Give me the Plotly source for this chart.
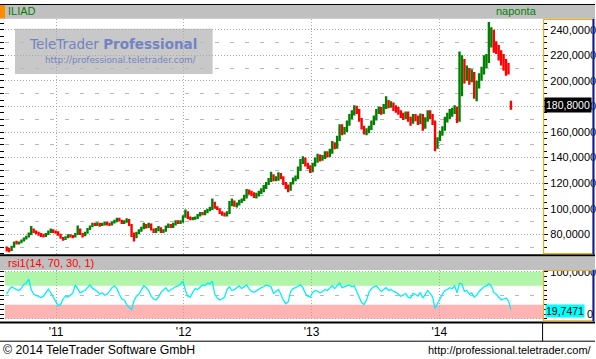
import plotly.graph_objects as go
import pandas as pd

W, H = 596, 359


def px(x):
    return x / W


def py(y):
    return (H - y) / H


# ---------------- data (weekly bars) ----------------
first_week = "2010-08-13"

open_ = [
    69, 68, 67.5, 70, 73.5, 73, 73.5, 75, 76.5, 78,
    80, 84, 81.5, 81, 80, 79, 78.5, 80, 82, 83,
    82, 81.5, 80, 77, 76, 77.5, 79, 78.5, 78, 80,
    84, 80, 79, 81, 84, 86, 88, 87.5, 88.5, 87,
    88, 89, 88, 87.5, 89, 90, 92, 91, 88.5, 90,
    91, 87.5, 80, 78, 81, 83, 85, 87, 86, 88,
    84, 82, 84, 85, 82, 83, 86, 87, 86, 88,
    90, 89, 90, 94, 97, 93, 92, 92.5, 93, 95,
    96.5, 96, 98, 99, 100, 105, 101, 100, 97, 96,
    95.5, 97, 104, 106, 103, 104, 106, 107, 109, 114,
    113, 112, 110, 111, 113, 114, 117, 120, 122, 126,
    123, 124, 127, 125, 120, 118, 115, 120, 123, 124,
    131, 137, 139, 135, 133, 130, 135, 138, 141, 139,
    141, 143, 142, 145, 151, 149, 155, 164, 160, 162,
    167, 172, 175, 179, 177, 170, 164, 160, 161, 163,
    167, 171, 176, 178, 176, 180, 183, 181, 182, 179,
    178, 176, 173, 172, 174, 170, 168, 172, 171, 168,
    172, 164, 170, 175, 172, 168, 148, 155, 160, 163,
    170, 173, 175, 176, 179, 168, 190, 215, 205, 208,
    203, 205, 195, 197, 203, 208, 215, 217, 235, 238,
    230, 225, 220, 218, 213, 212, 184,
]

high = [
    70.5, 69.5, 71, 74.5, 75, 74.5, 76, 77.5, 79, 81.5,
    86.5, 84.5, 83, 82, 81, 80.5, 81, 83, 84.5, 84,
    83, 82.5, 80.5, 78, 78.5, 80, 80, 79.5, 81, 87,
    84.5, 81, 82, 85, 87, 89, 89, 89.5, 89, 89,
    90, 90, 89, 90, 91.5, 93, 93, 91.5, 91, 92.5,
    92, 88, 81.5, 82, 84, 86, 89, 88, 89, 88.5,
    84.5, 85, 86.5, 85.5, 84, 87, 88.5, 88, 89, 91,
    91, 91, 95, 99.5, 98, 94, 93.5, 94, 96, 97.5,
    97.5, 99, 100, 101.5, 108, 105.5, 102, 100.5, 98, 97,
    98, 106, 108, 106.5, 105, 107, 108, 111, 115.5, 115,
    114, 113, 112.5, 114, 116, 118.5, 121, 124, 129, 127,
    125.5, 128.5, 128, 125.5, 121, 119, 121, 124.5, 126, 133,
    139, 141, 140, 136, 134, 136, 140, 143, 142.5, 142,
    145, 145, 147, 153, 152, 157, 166, 166, 164, 169,
    174, 177, 181, 180.5, 178, 171, 165, 163, 165, 169,
    173, 178, 180, 179.5, 182, 188, 185, 184, 183, 181,
    179.5, 177, 175, 176, 176, 172, 174, 174, 173, 174.5,
    174, 171.5, 177, 177, 174, 169, 156, 161, 164.5, 172,
    175, 178, 179, 181, 180, 223, 220, 217, 212, 210,
    209, 207, 200, 206, 211, 220, 221, 246, 242, 240,
    231, 228, 224, 221, 217, 214, 184.5,
]

low = [
    66.5, 66, 67, 69.5, 72, 72, 73, 74.5, 76, 77.5,
    79.5, 81, 80, 79, 78, 77.5, 78, 79.5, 81, 81,
    80.5, 79, 76.5, 75, 75.5, 77, 77.5, 77, 77.5, 79.5,
    79.5, 77.5, 78.5, 80.5, 83.5, 85.5, 86.5, 86.5, 86, 86.5,
    87, 87, 86.5, 87, 88.5, 89.5, 90, 88, 88, 89,
    86.5, 78, 74.5, 77, 80, 82, 84, 84.5, 85, 83,
    81, 81, 82.5, 81, 81, 82, 85, 85, 85, 87,
    88, 88, 89, 93, 92, 91, 91, 91.5, 92, 94,
    95, 95, 96.5, 98, 99, 100, 99, 96, 94.5, 94,
    94, 96, 102, 101.5, 101, 102.5, 104.5, 106, 108, 111,
    110, 108.5, 108, 109.5, 111.5, 113, 115.5, 118.5, 121, 121.5,
    121.5, 122, 123, 118.5, 115.5, 113, 114, 119, 121.5, 123,
    129.5, 135, 133, 131, 128, 128.5, 133, 136, 137, 137.5,
    139, 140, 140.5, 143, 146.5, 147, 153, 157.5, 158, 160,
    165, 170, 173, 174, 168, 162, 158, 157.5, 159, 161.5,
    165.5, 169, 174, 173.5, 174, 178, 178.5, 179, 176.5, 175,
    173.5, 171, 169.5, 170, 168, 165, 166.5, 168.5, 165.5, 166,
    161, 162.5, 168, 170, 165.5, 145, 147, 153, 157, 161,
    167.5, 170, 172, 174, 167, 168, 188, 198, 200, 197,
    199, 186, 184, 194, 200, 205, 210, 214, 226, 222,
    221, 216, 212, 208, 204, 205, 177.5,
]

close = [
    68, 67.5, 70, 73.5, 73, 73.5, 75, 76.5, 78, 80,
    84, 81.5, 81, 80, 79, 78.5, 80, 82, 83, 82,
    81.5, 80, 77, 76, 77.5, 79, 78.5, 78, 80, 84,
    80, 79, 81, 84, 86, 88, 87.5, 88.5, 87, 88,
    89, 88, 87.5, 89, 90, 92, 91, 88.5, 90, 91,
    87.5, 80, 78, 81, 83, 85, 87, 86, 88, 84,
    82, 84, 85, 82, 83, 86, 87, 86, 88, 90,
    89, 90, 94, 97, 93, 92, 92.5, 93, 95, 96.5,
    96, 98, 99, 100, 105, 101, 100, 97, 96, 95.5,
    97, 104, 106, 103, 104, 106, 107, 109, 114, 113,
    112, 110, 111, 113, 114, 117, 120, 122, 126, 123,
    124, 127, 125, 120, 118, 115, 120, 123, 124, 131,
    137, 139, 135, 133, 130, 135, 138, 141, 139, 141,
    143, 142, 145, 151, 149, 155, 164, 160, 162, 167,
    172, 175, 179, 177, 170, 164, 160, 161, 163, 167,
    171, 176, 178, 176, 180, 183, 181, 182, 179, 178,
    176, 173, 172, 174, 170, 168, 172, 171, 168, 172,
    164, 170, 175, 172, 168, 148, 155, 160, 163, 170,
    173, 175, 176, 179, 168, 190, 215, 205, 208, 203,
    205, 195, 197, 203, 208, 215, 217, 235, 238, 230,
    225, 220, 218, 213, 212, 210, 180.8,
]

rsi = [
    52, 62, 68, 64, 62, 60, 65, 73, 76, 84,
    62, 52, 50, 47, 45, 48, 55, 63, 55, 45,
    38, 28, 30, 42, 48, 46, 50, 55, 72, 62,
    55, 58, 60, 66, 72, 65, 62, 58, 52, 55,
    50, 52, 58, 66, 70, 64, 52, 42, 40, 30,
    24, 20, 38, 48, 52, 62, 70, 66, 60, 48,
    42, 40, 46, 56, 62, 66, 58, 62, 66, 68,
    70, 74, 80, 60, 48, 46, 56, 64, 62, 68,
    72, 70, 76, 74, 80, 52, 44, 40, 42, 46,
    62, 68, 60, 62, 66, 70, 64, 68, 72, 64,
    58, 56, 60, 64, 66, 68, 72, 70, 68, 54,
    58, 62, 52, 40, 32, 36, 58, 64, 66, 70,
    72, 66, 54, 48, 46, 56, 60, 58, 55, 58,
    62, 60, 66, 70, 64, 70, 76, 66, 68, 70,
    72, 68, 70, 58, 44, 34, 30, 40, 56, 64,
    68, 70, 64, 58, 62, 66, 60, 62, 58, 56,
    52, 48, 50, 54, 46, 44, 54, 52, 48, 56,
    44, 52, 60, 54, 46, 22, 32, 44, 52, 60,
    62, 66, 64, 70, 55, 75, 74, 58, 60, 52,
    55, 46, 50, 58, 64, 68, 70, 74, 70, 56,
    52, 46, 40, 42, 44, 38, 19.7471,
]

year_ticks = ["2011-01-01", "2012-01-01", "2013-01-01", "2014-01-01"]
year_labels = ["'11", "'12", "'13", "'14"]
last_price_label = "180,8000"
last_rsi_label = "19,7471"

dates = pd.date_range(first_week, periods=len(close), freq="7D")

# ---------------- styling ----------------
X_RANGE = ["2010-08-08", "2014-10-25"]
P_RANGE = [64.5, 248.5]
R_RANGE = [-5.7, 103.6]
XDOM = [px(5), px(544)]
MAIN_DOM = [py(253), py(15)]
RSI_DOM = [py(321), py(269)]
GRID = "#a8a8a8"
DOT = "1px,2px"
DASH = "4px,11px"
FONT = "Liberation Sans"

fig = go.Figure()
fig.add_trace(go.Ohlc(
    x=dates, open=open_, high=high, low=low, close=close,
    increasing=dict(line=dict(color="#008000", width=2.4)),
    decreasing=dict(line=dict(color="#ff0000", width=2.4)),
    tickwidth=0, xaxis="x", yaxis="y", hoverinfo="skip", showlegend=False,
))
fig.add_trace(go.Scatter(
    x=dates, y=rsi, mode="lines", line=dict(color="#00f0ff", width=1.3),
    xaxis="x2", yaxis="y2", hoverinfo="skip", showlegend=False,
))
for ax in ["y3", "y4"]:
    fig.add_trace(go.Scatter(x=[], y=[], xaxis="x", yaxis=ax, showlegend=False))
for ax in ["y5", "y6"]:
    fig.add_trace(go.Scatter(x=[], y=[], xaxis="x2", yaxis=ax, showlegend=False))

tickfont = dict(family=FONT, size=11, color="black")

fig.update_layout(
    width=W, height=H, margin=dict(l=0, r=0, t=0, b=0),
    paper_bgcolor="white", plot_bgcolor="rgba(0,0,0,0)",
    separators=",.", showlegend=False, hovermode=False,
    font=dict(family=FONT, size=11, color="black"),
    xaxis=dict(domain=XDOM, anchor="y", type="date", range=X_RANGE,
               showgrid=True, gridcolor=GRID, griddash=DOT, gridwidth=1,
               tickvals=year_ticks, showticklabels=False, ticks="",
               zeroline=False, showline=False, rangeslider=dict(visible=False)),
    xaxis2=dict(domain=XDOM, anchor="y2", type="date", range=X_RANGE,
                showgrid=True, gridcolor=GRID, griddash=DOT, gridwidth=1,
                tickvals=year_ticks, ticktext=year_labels, ticks="",
                tickfont=dict(family=FONT, size=12, color="black"),
                ticklabelstandoff=2, zeroline=False, showline=False),
    yaxis=dict(domain=MAIN_DOM, anchor="x", side="right", range=P_RANGE,
               dtick=20, tick0=0, tickformat=".4f", ticks="outside", ticklen=4,
               tickcolor="black", tickfont=tickfont,
               minor=dict(dtick=5, tick0=0, ticks="outside", ticklen=3, tickcolor="black"),
               showgrid=False, zeroline=False, showline=False),
    yaxis3=dict(overlaying="y", anchor="x", side="left", range=P_RANGE,
                dtick=20, tick0=0, showgrid=True, gridcolor=GRID, griddash=DOT,
                minor=dict(dtick=10, tick0=0, showgrid=True, gridcolor="#b8b8b8",
                           griddash=DASH, ticks=""),
                showticklabels=False, ticks="", zeroline=False, showline=False),
    yaxis4=dict(overlaying="y", anchor="x", side="left", range=P_RANGE,
                dtick=5, tick0=0, ticks="outside", ticklen=4, tickcolor="black",
                showticklabels=False, showgrid=False, zeroline=False, showline=False),
    yaxis2=dict(domain=RSI_DOM, anchor="x2", side="right", range=R_RANGE,
                tickvals=[100], tickformat=".4f", ticks="outside", ticklen=4,
                tickcolor="black", tickfont=tickfont,
                minor=dict(tickmode="linear", dtick=10, tick0=0, ticks="outside",
                           ticklen=3, tickcolor="black"),
                showgrid=False, zeroline=False, showline=False),
    yaxis5=dict(overlaying="y2", anchor="x2", side="left", range=R_RANGE,
                tickvals=[0, 100], showgrid=True, gridcolor=GRID, griddash=DOT,
                minor=dict(tickvals=[50], showgrid=True, gridcolor="#b8b8b8",
                           griddash=DASH, ticks=""),
                showticklabels=False, ticks="", zeroline=False, showline=False),
    yaxis6=dict(overlaying="y2", anchor="x2", side="left", range=R_RANGE,
                dtick=10, tick0=0, ticks="outside", ticklen=4, tickcolor="black",
                showticklabels=False, showgrid=False, zeroline=False, showline=False),
)

shapes = []


def rect(x0, y0, x1, y1, fill, layer="above", line=None):
    shapes.append(dict(type="rect", xref="paper", yref="paper",
                       x0=px(x0), x1=px(x1), y0=py(y1), y1=py(y0),
                       fillcolor=fill, line=line or dict(width=0), layer=layer))


def hline(x0, x1, y, color, width):
    shapes.append(dict(type="line", xref="paper", yref="paper",
                       x0=px(x0), x1=px(x1), y0=py(y), y1=py(y),
                       line=dict(color=color, width=width), layer="above"))


def vline(x, y0, y1, color, width):
    shapes.append(dict(type="line", xref="paper", yref="paper",
                       x0=px(x), x1=px(x), y0=py(y0), y1=py(y1),
                       line=dict(color=color, width=width), layer="above"))


# headers
rect(0, 0, 596, 15, "#c0c0c0")
rect(0, 0.5, 5, 14.5, "#ff8c00")
hline(0, 596, 0.5, "black", 1)
rect(0, 255, 596, 269, "#c0c0c0")
hline(0, 596, 254, "black", 2)
# bottom label area
hline(0, 596, 322, "black", 2)
hline(0, 596, 341, "black", 1)
vline(543.5, 322, 341, "black", 1)
# right axis frames
for (t, b) in [(15, 253), (269, 321)]:
    shapes.append(dict(type="rect", xref="paper", yref="paper",
                       x0=px(544.5), x1=px(594), y0=py(b - 0.5), y1=py(t + 0.5),
                       line=dict(color="#e8b020", width=1.2), layer="above"))
    vline(594.5, t, b, "#0018c0", 2)
# watermark box
rect(15, 25, 213, 70.7, "#c8c8c8", layer="below")
# RSI bands
shapes.append(dict(type="rect", xref="x2 domain", yref="y2", x0=0, x1=1, y0=70, y1=100,
                   fillcolor="#b0f5a8", line=dict(width=0), layer="below"))
shapes.append(dict(type="rect", xref="x2 domain", yref="y2", x0=0, x1=1, y0=0, y1=30,
                   fillcolor="#ffb4b4", line=dict(width=0), layer="below"))
fig.update_layout(shapes=shapes)

ann = []


def text(x, y, s, color="black", size=11, anchor="left", family=FONT, **kw):
    d = dict(xref="paper", yref="paper", x=px(x), y=py(y), text=s, showarrow=False,
             xanchor=anchor, yanchor="middle",
             font=dict(family=family, size=size, color=color))
    d.update(kw)
    ann.append(d)


text(6, 7.5, "ILIAD", color="#008000")
text(540, 7.5, "naponta", color="#008000", anchor="right")
text(6, 262, "rsi1(14, 70, 30, 1)", color="#ff0000")
text(27, 40.5, "TeleTrader <b>Professional</b>", color="#7383c3", size=13.5,
     family="DejaVu Sans")
text(198, 57, "http://professional.teletrader.com/", color="#7383c3", size=8.8,
     anchor="right", family="DejaVu Sans")
text(1, 350, "© 2014 TeleTrader Software GmbH", size=12.3)
text(595, 350, "http://professional.teletrader.com/", size=11, anchor="right")
text(586, 313, "0", size=11)
ann.append(dict(xref="paper", yref="y", x=px(545), y=180.8, text=last_price_label,
                showarrow=False, xanchor="left", yanchor="middle", bgcolor="black",
                borderpad=1, font=dict(family=FONT, size=10.5, color="white")))
ann.append(dict(xref="paper", yref="y2", x=px(546), y=17, text=last_rsi_label,
                showarrow=False, xanchor="left", yanchor="middle", bgcolor="#00ffff",
                borderpad=0, font=dict(family=FONT, size=10.5, color="black")))
fig.update_layout(annotations=ann)

fig.write_html("out.html",
               config={"displayModeBar": False, "staticPlot": True},
               post_script="document.body.style.margin='0px';"
                           "document.body.style.overflow='hidden';")
